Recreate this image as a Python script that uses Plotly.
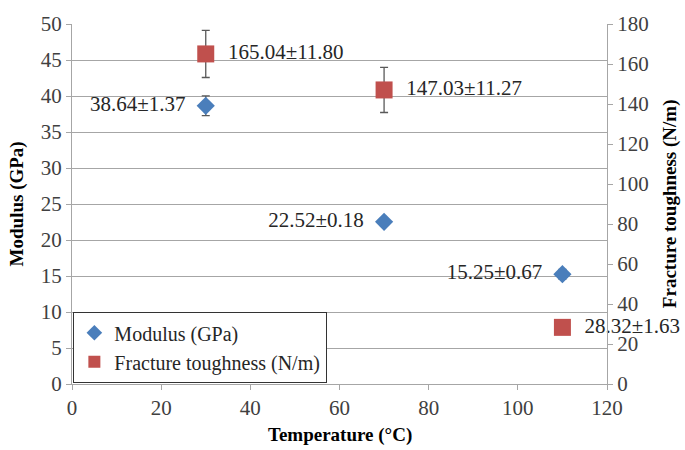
import plotly.graph_objects as go

temperature = [30, 70, 110]
modulus = [38.64, 22.52, 15.25]
modulus_err = [1.37, 0.18, 0.67]
toughness = [165.04, 147.03, 28.32]
toughness_err = [11.80, 11.27, 1.63]

NB = "\u00a0\u00a0"
mod_labels = [f"{v:.2f}±{e:.2f}{NB}" for v, e in zip(modulus, modulus_err)]
tough_labels = [f"{NB}{v:.2f}±{e:.2f}" for v, e in zip(toughness, toughness_err)]

FONT = "Liberation Serif, Times New Roman, serif"
TICKC = "#404040"
FS = 21

fig = go.Figure()
fig.add_trace(go.Scatter(
    x=temperature, y=modulus, mode="markers+text", name="Modulus (GPa)",
    marker=dict(symbol="diamond", size=14, color="#4a7ebb"),
    error_y=dict(type="data", array=modulus_err, color="#595959", thickness=1.3, width=4),
    text=mod_labels, textposition="middle left", cliponaxis=False,
    textfont=dict(family=FONT, size=FS, color="#262626"),
))
fig.add_trace(go.Scatter(
    x=temperature, y=toughness, mode="markers+text", name="Fracture toughness (N/m)",
    yaxis="y2",
    marker=dict(symbol="square", size=17, color="#c0504d"),
    error_y=dict(type="data", array=toughness_err, color="#595959", thickness=1.3, width=4),
    text=tough_labels, textposition="middle right", cliponaxis=False,
    textfont=dict(family=FONT, size=FS, color="#262626"),
))

fig.update_layout(
    width=685, height=450,
    margin=dict(l=72, r=78, t=15, b=66),
    paper_bgcolor="white", plot_bgcolor="white",
    font=dict(family=FONT, size=FS, color=TICKC),
    showlegend=True,
    legend=dict(
        x=0.002, y=0.003, xanchor="left", yanchor="bottom",
        bgcolor="white", bordercolor="#333333", borderwidth=1.3,
        font=dict(family=FONT, size=FS - 1, color="#262626"),
        itemsizing="constant", tracegroupgap=6,
        entrywidth=225, entrywidthmode="pixels",
    ),
    xaxis=dict(
        range=[0, 120], dtick=20, showgrid=False, zeroline=False,
        showline=True, linecolor="#a6a6a6", linewidth=1.3,
        ticks="outside", ticklen=5, tickcolor="#a6a6a6",
        tickfont=dict(family=FONT, size=FS, color=TICKC),
    ),
    yaxis=dict(
        range=[0, 50], dtick=5, showgrid=True, gridcolor="#a6a6a6", gridwidth=1.3,
        zeroline=False, showline=True, linecolor="#a6a6a6", linewidth=1.3,
        ticks="outside", ticklen=5, tickcolor="#a6a6a6",
        tickfont=dict(family=FONT, size=FS, color=TICKC),
    ),
    yaxis2=dict(
        range=[0, 180], dtick=20, overlaying="y", side="right", showgrid=False,
        zeroline=False, showline=True, linecolor="#a6a6a6", linewidth=1.3,
        ticks="outside", ticklen=5, tickcolor="#a6a6a6",
        tickfont=dict(family=FONT, size=FS, color=TICKC),
    ),
    annotations=[
        dict(text="<b>Modulus (GPa)</b>", xref="paper", yref="paper", x=-0.102, y=0.5,
             xanchor="center", yanchor="middle", textangle=-90, showarrow=False,
             font=dict(family=FONT, size=FS - 2, color="#000000")),
        dict(text="<b>Fracture toughness (N/m)</b>", xref="paper", yref="paper", x=1.118, y=0.5,
             xanchor="center", yanchor="middle", textangle=-90, showarrow=False,
             font=dict(family=FONT, size=FS - 2, color="#000000")),
        dict(text="<b>Temperature (°C)</b>", xref="paper", yref="paper", x=0.5, y=-0.141,
             xanchor="center", yanchor="middle", showarrow=False,
             font=dict(family=FONT, size=FS - 2, color="#000000")),
    ],
)

fig.write_html("out.html")
